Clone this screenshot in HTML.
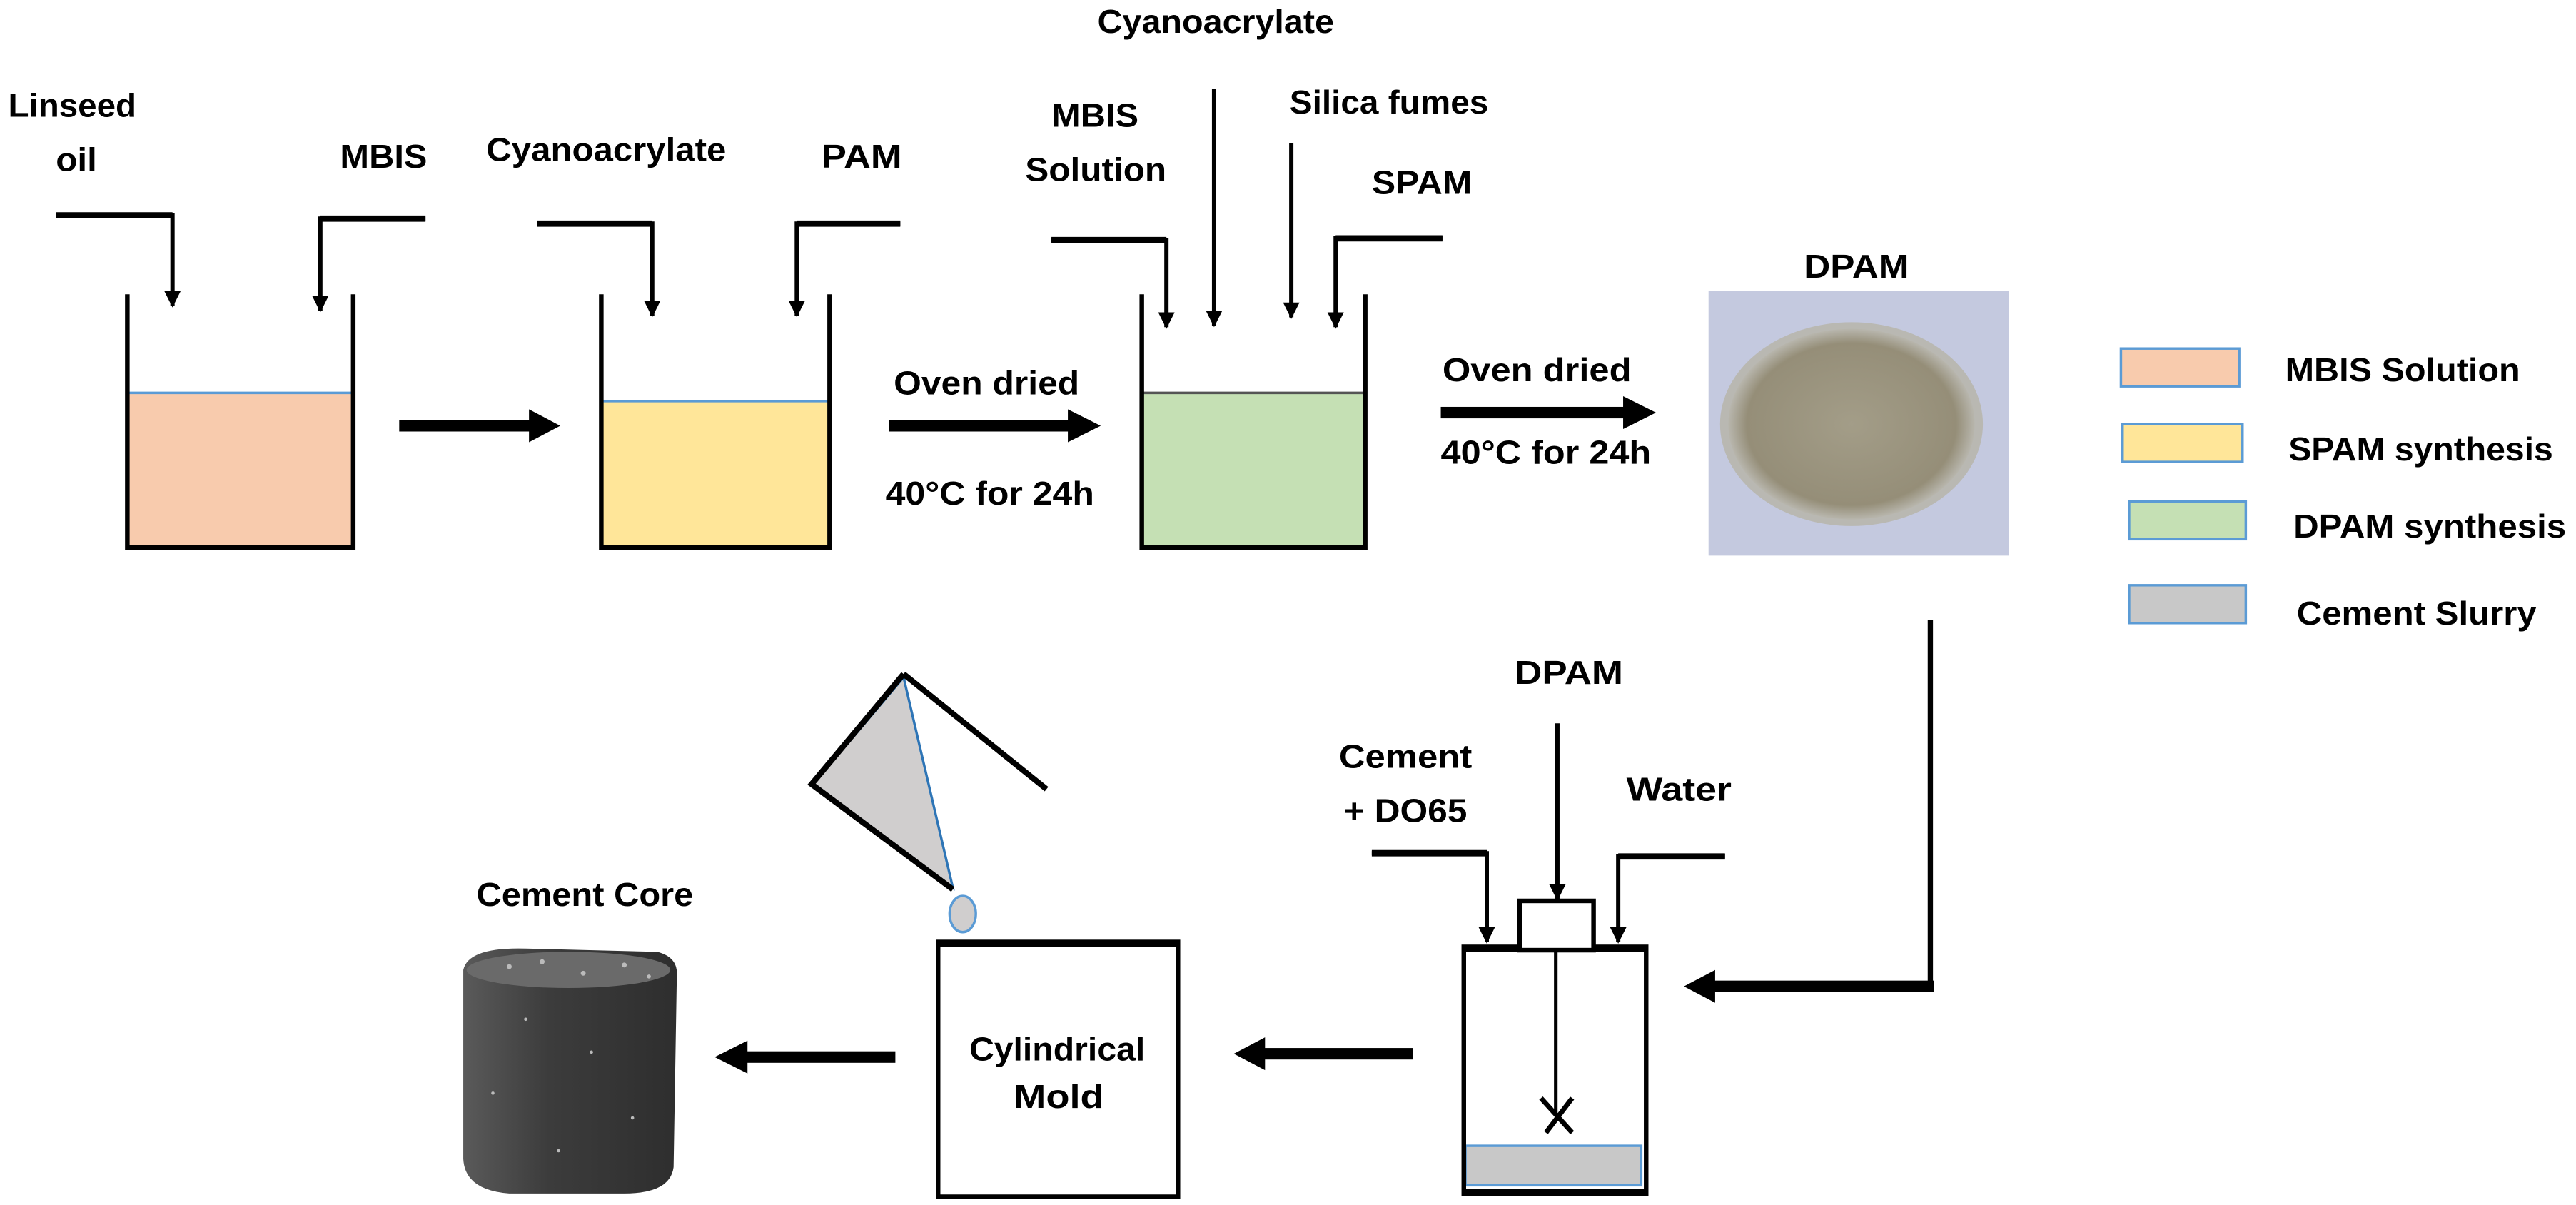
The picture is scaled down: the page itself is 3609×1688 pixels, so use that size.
<!DOCTYPE html>
<html><head><meta charset="utf-8"><style>
html,body{margin:0;padding:0;background:#fff;}
svg{display:block;}
text{font-family:"Liberation Sans Narrow","Liberation Sans",sans-serif;font-weight:bold;font-size:20px;fill:#000;}
</style></head><body>
<svg width="3609" height="1688" viewBox="0 0 1568 733" preserveAspectRatio="none" xmlns="http://www.w3.org/2000/svg">
<defs>
<marker id="ah" markerWidth="10" markerHeight="10" refX="9" refY="5" orient="auto" markerUnits="userSpaceOnUse"><path d="M0,0 L10,5 L0,10 Z" fill="#000"/></marker>
<radialGradient id="dish" cx="0.5" cy="0.5" r="0.5"><stop offset="0" stop-color="#a39d88"/><stop offset="0.85" stop-color="#958e78"/><stop offset="1" stop-color="#b8b6ad"/></radialGradient>
<linearGradient id="core" x1="0" x2="1"><stop offset="0" stop-color="#5a5a5a"/><stop offset="0.4" stop-color="#3c3c3c"/><stop offset="1" stop-color="#2e2e2e"/></linearGradient>
</defs>

<text x="5" y="71" textLength="78" lengthAdjust="spacingAndGlyphs">Linseed</text>
<text x="34" y="104" textLength="25" lengthAdjust="spacingAndGlyphs">oil</text>
<text x="207" y="102" textLength="53" lengthAdjust="spacingAndGlyphs">MBIS</text>
<text x="296" y="98" textLength="146" lengthAdjust="spacingAndGlyphs">Cyanoacrylate</text>
<text x="500" y="102" textLength="49" lengthAdjust="spacingAndGlyphs">PAM</text>
<text x="640" y="77" textLength="53" lengthAdjust="spacingAndGlyphs">MBIS</text>
<text x="624" y="110" textLength="86" lengthAdjust="spacingAndGlyphs">Solution</text>
<text x="668" y="20" textLength="144" lengthAdjust="spacingAndGlyphs">Cyanoacrylate</text>
<text x="785" y="69" textLength="121" lengthAdjust="spacingAndGlyphs">Silica fumes</text>
<text x="835" y="118" textLength="61" lengthAdjust="spacingAndGlyphs">SPAM</text>
<text x="1098" y="169" textLength="64" lengthAdjust="spacingAndGlyphs">DPAM</text>
<text x="544" y="240" textLength="113" lengthAdjust="spacingAndGlyphs">Oven dried</text>
<text x="539" y="307" textLength="127" lengthAdjust="spacingAndGlyphs">40°C for 24h</text>
<text x="878" y="232" textLength="115" lengthAdjust="spacingAndGlyphs">Oven dried</text>
<text x="877" y="282" textLength="128" lengthAdjust="spacingAndGlyphs">40°C for 24h</text>

<g fill="none" stroke="#000" stroke-width="2.6" marker-end="url(#ah)">
<polyline points="34,131 105,131 105,186"/>
<polyline points="259,133 195,133 195,189"/>
<polyline points="327,136 397,136 397,192"/>
<polyline points="548,136 485,136 485,192"/>
<polyline points="640,146 710,146 710,199"/>
<polyline points="739,54 739,198"/>
<polyline points="786,87 786,193"/>
<polyline points="878,145 813,145 813,199"/>
</g>
<g stroke="#000" stroke-width="3.8" fill="none">
<line x1="34" y1="131" x2="105" y2="131"/><line x1="259" y1="133" x2="195" y2="133"/>
<line x1="327" y1="136" x2="397" y2="136"/><line x1="548" y1="136" x2="485" y2="136"/>
<line x1="640" y1="146" x2="710" y2="146"/><line x1="878" y1="145" x2="813" y2="145"/>
</g>

<rect x="78" y="239" width="137" height="93" fill="#f8cbad"/>
<line x1="78" y1="239" x2="215" y2="239" stroke="#5b9bd5" stroke-width="1.5"/>
<rect x="366" y="244" width="139" height="88" fill="#ffe699"/>
<line x1="366" y1="244" x2="505" y2="244" stroke="#5b9bd5" stroke-width="1.5"/>
<rect x="695" y="239" width="136" height="93" fill="#c5e0b4"/>
<line x1="695" y1="239" x2="831" y2="239" stroke="#555" stroke-width="1.5"/>
<g fill="none" stroke="#000" stroke-width="2.8">
<polyline points="77.5,179 77.5,333 215,333 215,179"/>
<polyline points="366,179 366,333 505,333 505,179"/>
<polyline points="695,179 695,333 831,333 831,179"/>
</g>

<g fill="#000">
<rect x="243" y="255.5" width="80" height="7"/><path d="M322,249 L341,259 L322,269Z"/>
<rect x="541" y="255.5" width="110" height="7"/><path d="M650,249 L670,259 L650,269Z"/>
<rect x="877" y="247.5" width="112" height="7"/><path d="M988,241 L1008,251 L988,261Z"/>
</g>

<rect x="1040" y="177" width="183" height="161" fill="#c4c9df"/>
<ellipse cx="1127" cy="258" rx="80" ry="62" fill="#b9b8b2"/>
<ellipse cx="1127" cy="258" rx="75" ry="58" fill="url(#dish)"/>

<rect x="1291" y="212" width="72" height="23" fill="#f8cbad" stroke="#5b9bd5" stroke-width="1.5"/>
<rect x="1292" y="258" width="73" height="23" fill="#ffe699" stroke="#5b9bd5" stroke-width="1.5"/>
<rect x="1296" y="305" width="71" height="23" fill="#c5e0b4" stroke="#5b9bd5" stroke-width="1.5"/>
<rect x="1296" y="356" width="71" height="23" fill="#c8c8c8" stroke="#5b9bd5" stroke-width="1.5"/>
<text x="1391" y="232" textLength="143" lengthAdjust="spacingAndGlyphs">MBIS Solution</text>
<text x="1393" y="280" textLength="161" lengthAdjust="spacingAndGlyphs">SPAM synthesis</text>
<text x="1396" y="327" textLength="166" lengthAdjust="spacingAndGlyphs">DPAM synthesis</text>
<text x="1398" y="380" textLength="146" lengthAdjust="spacingAndGlyphs">Cement Slurry</text>

<line x1="1175" y1="377" x2="1175" y2="600" stroke="#000" stroke-width="3.2"/>
<rect x="1040" y="596.5" width="137" height="7" fill="#000"/>
<path d="M1044,590 L1025,600 L1044,610Z" fill="#000"/>

<text x="922" y="416" textLength="66" lengthAdjust="spacingAndGlyphs">DPAM</text>
<text x="815" y="467" textLength="81" lengthAdjust="spacingAndGlyphs">Cement</text>
<text x="818" y="500" textLength="75" lengthAdjust="spacingAndGlyphs">+ DO65</text>
<text x="990" y="487" textLength="64" lengthAdjust="spacingAndGlyphs">Water</text>
<g fill="none" stroke="#000" stroke-width="2.6" marker-end="url(#ah)">
<polyline points="835,519 905,519 905,573"/>
<polyline points="948,440 948,547"/>
<polyline points="1050,521 985,521 985,573"/>
</g>
<line x1="835" y1="519" x2="905" y2="519" stroke="#000" stroke-width="3.8"/>
<line x1="1050" y1="521" x2="985" y2="521" stroke="#000" stroke-width="3.8"/>
<rect x="892" y="697" width="107" height="24" fill="#c8c8c8" stroke="#5b9bd5" stroke-width="1.5"/>
<rect x="891" y="576" width="111" height="150" fill="none" stroke="#000" stroke-width="2.8"/>
<line x1="890" y1="577" x2="1003" y2="577" stroke="#000" stroke-width="4"/>
<line x1="890" y1="725" x2="1003" y2="725" stroke="#000" stroke-width="4"/>
<rect x="925" y="548" width="45" height="30" fill="#fff" stroke="#000" stroke-width="2.8"/>
<line x1="947" y1="578" x2="947" y2="679" stroke="#000" stroke-width="2.2"/>
<path d="M938,668 L957,689 M957,668 L941,689" stroke="#000" stroke-width="3" fill="none"/>

<rect x="768" y="637.5" width="92" height="7" fill="#000"/>
<path d="M770,631 L751,641 L770,651Z" fill="#000"/>

<rect x="571" y="573" width="146" height="155" fill="none" stroke="#000" stroke-width="2.8"/>
<line x1="570" y1="574" x2="718" y2="574" stroke="#000" stroke-width="4"/>
<text x="590" y="645" textLength="107" lengthAdjust="spacingAndGlyphs">Cylindrical</text>
<text x="617" y="674" textLength="55" lengthAdjust="spacingAndGlyphs">Mold</text>

<path d="M550,412 L495,477 L580,540 Z" fill="#d0cece" stroke="#2e75b6" stroke-width="1.5"/>
<polyline points="550,410 494,477 580,541" fill="none" stroke="#000" stroke-width="3.5"/>
<line x1="550" y1="410" x2="637" y2="480" stroke="#000" stroke-width="3.5"/>
<ellipse cx="586" cy="556" rx="8" ry="11" fill="#d0cece" stroke="#5b9bd5" stroke-width="1.5"/>

<rect x="453" y="639.5" width="92" height="7" fill="#000"/>
<path d="M455,633 L435,643 L455,653Z" fill="#000"/>

<text x="290" y="551" textLength="132" lengthAdjust="spacingAndGlyphs">Cement Core</text>
<path d="M282,590 Q285,576 320,577 L400,579 Q412,582 412,592 L410,710 Q408,726 380,726 L310,726 Q283,724 282,705 Z" fill="url(#core)"/>
<ellipse cx="346" cy="590" rx="62" ry="11" fill="#6a6a6a"/>
<g fill="#bbb">
<circle cx="310" cy="588" r="1.5"/><circle cx="330" cy="585" r="1.5"/><circle cx="355" cy="592" r="1.5"/><circle cx="380" cy="587" r="1.5"/>
<circle cx="395" cy="594" r="1.2"/><circle cx="320" cy="620" r="1"/><circle cx="360" cy="640" r="1"/><circle cx="300" cy="665" r="1"/>
<circle cx="385" cy="680" r="1"/><circle cx="340" cy="700" r="1"/>
</g>
</svg>
</body></html>
